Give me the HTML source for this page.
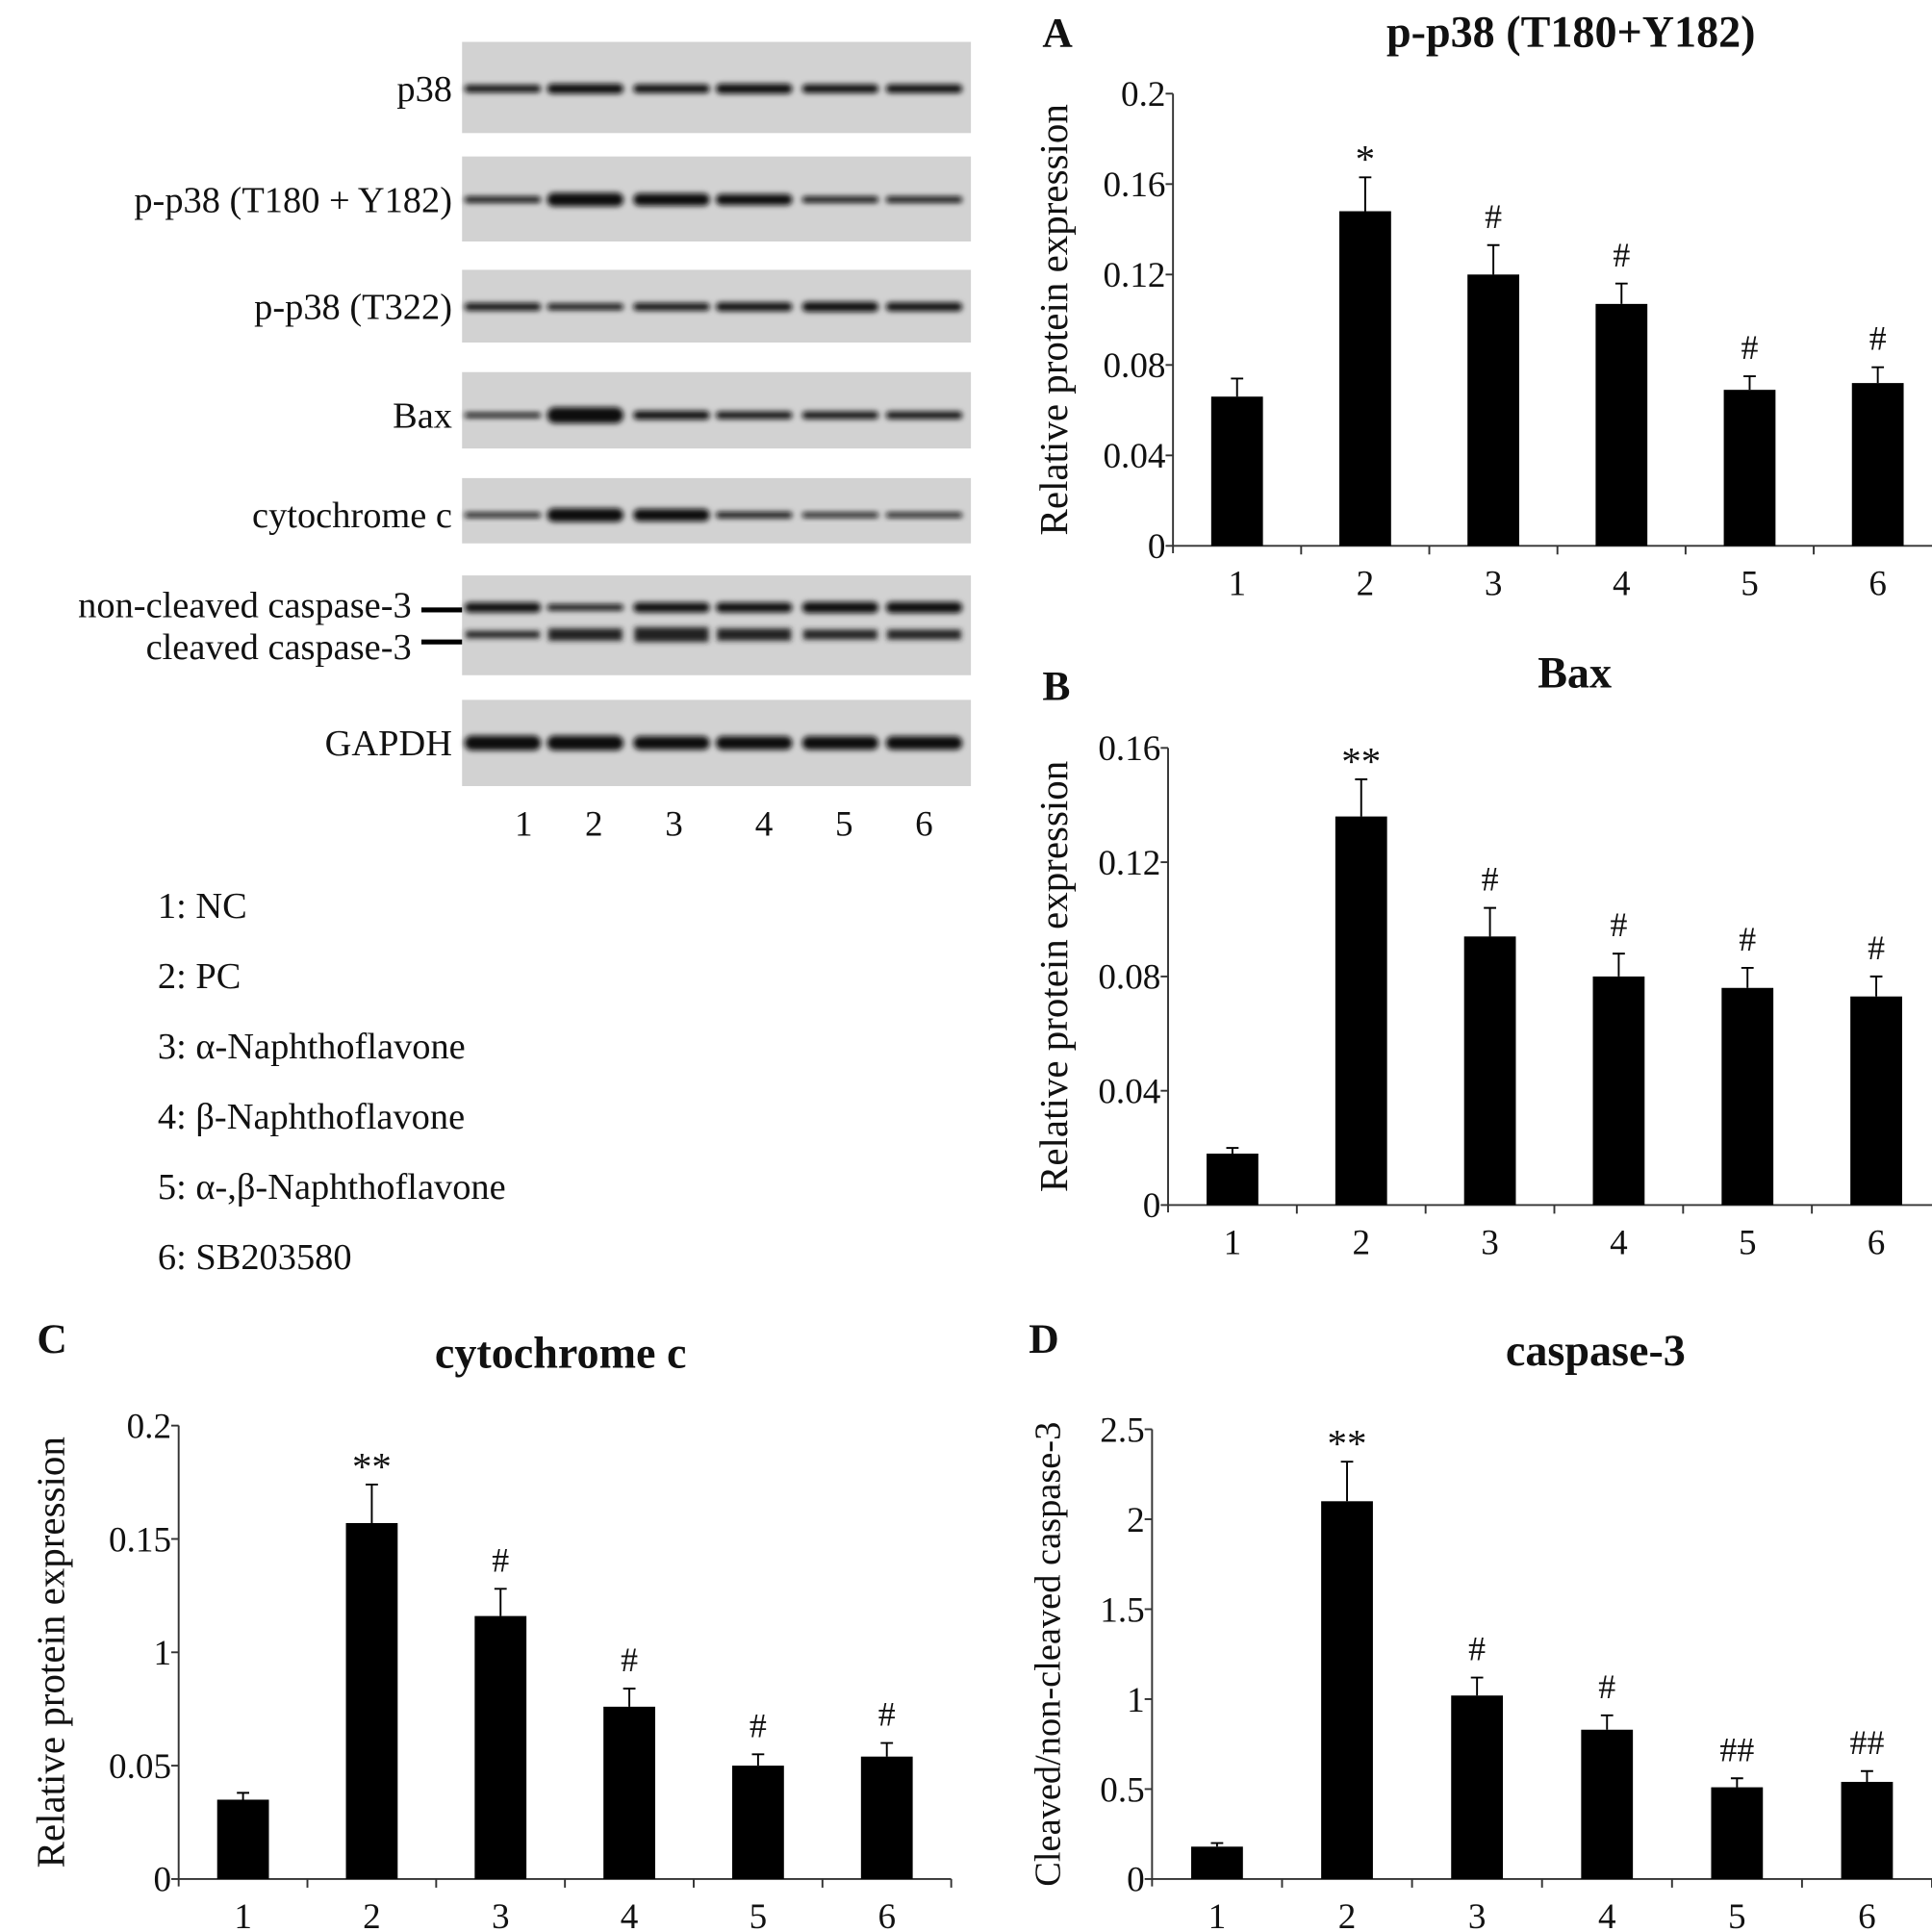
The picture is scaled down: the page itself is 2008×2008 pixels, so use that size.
<!DOCTYPE html>
<html><head><meta charset="utf-8"><style>
html,body{margin:0;padding:0;background:#fff;}
svg{display:block;}
text{font-family:"Liberation Serif",serif;fill:#111;}
</style></head><body>
<svg id="fig" width="2008" height="2008" viewBox="0 0 1568 1568" xmlns="http://www.w3.org/2000/svg">
<defs><filter id="blur" x="-20%" y="-100%" width="140%" height="300%"><feGaussianBlur stdDeviation="2.2"/></filter></defs>
<g id="blots"></g>
<g id="legend" font-size="30">
<text x="128" y="745">1: NC</text>
<text x="128" y="802">2: PC</text>
<text x="128" y="859">3: α-Naphthoflavone</text>
<text x="128" y="916">4: β-Naphthoflavone</text>
<text x="128" y="973">5: α-,β-Naphthoflavone</text>
<text x="128" y="1030">6: SB203580</text>
</g>
<g id="charts"></g>
</svg>
<script>
// ---- chart data ----
const categories = ["1","2","3","4","5","6"];
const valuesA = [0.066,0.148,0.120,0.107,0.069,0.072];
const errA = [0.074,0.163,0.133,0.116,0.075,0.079];
const marksA = ["","*","#","#","#","#"];
const ticksA = [0,0.04,0.08,0.12,0.16,0.2];
const tickLabelsA = ["0","0.04","0.08","0.12","0.16","0.2"];
const valuesB = [0.018,0.136,0.094,0.080,0.076,0.073];
const errB = [0.020,0.149,0.104,0.088,0.083,0.080];
const marksB = ["","**","#","#","#","#"];
const ticksB = [0,0.04,0.08,0.12,0.16];
const tickLabelsB = ["0","0.04","0.08","0.12","0.16"];
const valuesC = [0.035,0.157,0.116,0.076,0.050,0.054];
const errC = [0.038,0.174,0.128,0.084,0.055,0.060];
const marksC = ["","**","#","#","#","#"];
const ticksC = [0,0.05,0.1,0.15,0.2];
const tickLabelsC = ["0","0.05","1","0.15","0.2"];
const valuesD = [0.18,2.10,1.02,0.83,0.51,0.54];
const errD = [0.20,2.32,1.12,0.91,0.56,0.60];
const marksD = ["","**","#","#","##","##"];
const ticksD = [0,0.5,1,1.5,2,2.5];
const tickLabelsD = ["0","0.5","1","1.5","2","2.5"];

const NS="http://www.w3.org/2000/svg";
function mk(tag,attrs,parent,txt){const e=document.createElementNS(NS,tag);for(const k in attrs)e.setAttribute(k,attrs[k]);if(txt!==undefined)e.textContent=txt;parent.appendChild(e);return e;}

function chart(cfg){
  const g=mk("g",{},document.getElementById("charts"));
  
  
  const yS=v=>cfg.y0-(v/cfg.max)*(cfg.y0-cfg.yTop);
  const xS=i=>cfg.x0+cfg.band*(i+0.5);
  const xEnd=cfg.x0+cfg.band*categories.length;
  const t1=mk("text",{x:cfg.tx,y:cfg.ty,"font-size":36,"font-weight":"bold","text-anchor":"middle"},g,cfg.title);
  
  
  const pl=mk("text",{x:cfg.lx,y:cfg.ly,"font-size":34,"font-weight":"bold"},g,cfg.letter);
  
  
  const yl=mk("text",{transform:`translate(${cfg.ylx},${(cfg.y0+cfg.yTop)/2}) rotate(-90)`,"font-size":cfg.ylfs||32,"text-anchor":"middle"},g,cfg.ylabel);
  
  
  const ya=mk("line",{x1:cfg.x0,y1:cfg.yTop,x2:cfg.x0,y2:cfg.y0+6,stroke:"#333","stroke-width":1.5},g);
  
  
  const xa=mk("line",{x1:cfg.x0,y1:cfg.y0,x2:xEnd,y2:cfg.y0,stroke:"#333","stroke-width":1.5},g);
  
  
  cfg.ticks.forEach((t,i)=>{
    const y=yS(t);
    mk("line",{x1:cfg.x0-6,y1:y,x2:cfg.x0,y2:y,stroke:"#333","stroke-width":1.5},g);
    const tl=mk("text",{x:cfg.x0-6,y:y+10,"font-size":29,"text-anchor":"end"},g,cfg.tickLabels[i]);
    
    
  });
  categories.forEach((c,i)=>{
    const xb=cfg.x0+cfg.band*(i+1);
    mk("line",{x1:xb,y1:cfg.y0,x2:xb,y2:cfg.y0+7,stroke:"#333","stroke-width":1.5},g);
    const xt=mk("text",{x:xS(i),y:cfg.y0+40,"font-size":29,"text-anchor":"middle"},g,c);
    
    
    const v=cfg.values[i],e=cfg.err[i];
    const bar=mk("rect",{x:xS(i)-21,y:yS(v),width:42,height:cfg.y0-yS(v),fill:"#000"},g);
    
    
    const eb=mk("path",{d:`M${xS(i)} ${yS(v)} V${yS(e)} M${xS(i)-5} ${yS(e)} H${xS(i)+5}`,stroke:"#000","stroke-width":1.5,fill:"none"},g);
    
    
    if(cfg.marks[i]){
      const isStar=cfg.marks[i].includes("*");
      const m=mk("text",{x:xS(i),y:yS(e)-(isStar?4:14),"font-size":isStar?32:28,"text-anchor":"middle"},g,cfg.marks[i]);
      
      
    }
  });
}
chart({name:"chart-a-p-p38",letter:"A",lx:846,ly:38,title:"p-p38 (T180+Y182)",tx:1275,ty:38,ylabel:"Relative protein expression",ylx:866,
  x0:952,band:104,y0:443,yTop:76,max:0.2,values:valuesA,err:errA,marks:marksA,ticks:ticksA,tickLabels:tickLabelsA});
chart({name:"chart-b-bax",letter:"B",lx:846,ly:568,title:"Bax",tx:1278,ty:558,ylabel:"Relative protein expression",ylx:866,
  x0:948,band:104.5,y0:978,yTop:607,max:0.16,values:valuesB,err:errB,marks:marksB,ticks:ticksB,tickLabels:tickLabelsB});
chart({name:"chart-c-cytochrome-c",letter:"C",lx:30,ly:1098,title:"cytochrome  c",tx:455,ty:1110,ylabel:"Relative protein expression",ylx:52,
  x0:145,band:104.5,y0:1525,yTop:1157,max:0.2,values:valuesC,err:errC,marks:marksC,ticks:ticksC,tickLabels:tickLabelsC});
chart({name:"chart-d-caspase-3",letter:"D",lx:835,ly:1098,title:"caspase-3",tx:1295,ty:1108,ylabel:"Cleaved/non-cleaved caspase-3",ylx:860,ylfs:30,
  x0:935,band:105.5,y0:1525,yTop:1160,max:2.5,values:valuesD,err:errD,marks:marksD,ticks:ticksD,tickLabels:tickLabelsD});

// ---- blots (decorative images) ----
const bg=document.getElementById("blots");
const lanes=[408,475,545,612,682,750];
const rows=[
 {name:"p38",y:34,h:74,by:72,lab:"p38",w:[6,8,7,8,7,7]},
 {name:"p-p38-t180-y182",y:127,h:69,by:162,lab:"p-p38 (T180 + Y182)",w:[5,11,10,9,5,5]},
 {name:"p-p38-t322",y:219,h:59,by:249,lab:"p-p38 (T322)",w:[6,5,6,7,8,7]},
 {name:"bax",y:302,h:62,by:337,lab:"Bax",w:[4,13,7,6,6,6]},
 {name:"cytochrome-c",y:388,h:53,by:418,lab:"cytochrome c",w:[4,11,10,5,4,4]},
 {name:"caspase-3",y:467,h:81,by:493,lab:"",w:[8,5,8,8,9,9]},
 {name:"gapdh",y:568,h:70,by:603,lab:"GAPDH",w:[12,12,11,11,11,11]}
];
rows.forEach(r=>{
  const g=mk("g",{},bg);
  
  
  mk("rect",{x:375,y:r.y,width:413,height:r.h,fill:"#d2d2d2"},g);
  lanes.forEach((x,i)=>{mk("rect",{x:x-31,y:r.by-r.w[i]/2,width:62,height:r.w[i],rx:r.w[i]/2,fill:"#111",filter:"url(#blur)"},g);});
  if(r.name==="caspase-3"){lanes.forEach((x,i)=>{mk("rect",{x:x-30,y:515-[3,5,6,5,4,4][i],width:60,height:[6,10,12,10,8,8][i],fill:"#222",filter:"url(#blur)"},g);});}
  if(r.lab){const t=mk("text",{x:367,y:r.by+10,"font-size":30,"text-anchor":"end"},g,r.lab);
    }
});
const l1=mk("text",{x:334,y:501,"font-size":30,"text-anchor":"end"},bg,"non-cleaved caspase-3");

const l2=mk("text",{x:334,y:535,"font-size":30,"text-anchor":"end"},bg,"cleaved caspase-3");

mk("rect",{x:342,y:493,width:33,height:4,fill:"#000"},bg);
mk("rect",{x:342,y:519,width:33,height:4,fill:"#000"},bg);
[425,482,547,620,685,750].forEach((x,i)=>{const t=mk("text",{x:x,y:678,"font-size":29,"text-anchor":"middle"},bg,String(i+1));
  });
</script>
</body></html>
